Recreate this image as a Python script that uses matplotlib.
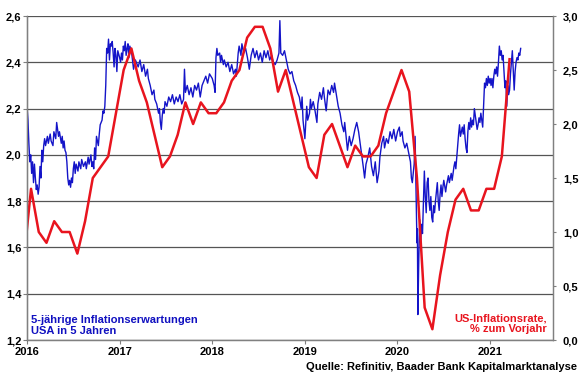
import matplotlib
matplotlib.use("Agg")
import matplotlib.pyplot as plt
from matplotlib.ticker import FuncFormatter, FixedLocator

plt.rcParams["font.family"] = ["Liberation Sans", "DejaVu Sans"]

# US-Inflationsrate, % zum Vorjahr (monatlich, Monatsmitte als Dezimaljahr)
cpi_months = [2015.96 + i / 12 for i in range(64)]
cpi_values = [0.7,
              1.4, 1.0, 0.9, 1.1, 1.0, 1.0, 0.8, 1.1, 1.5, 1.6, 1.7, 2.1,
              2.5, 2.7, 2.4, 2.2, 1.9, 1.6, 1.7, 1.9, 2.2, 2.0, 2.2, 2.1,
              2.1, 2.2, 2.4, 2.5, 2.8, 2.9, 2.9, 2.7, 2.3, 2.5, 2.2, 1.9,
              1.6, 1.5, 1.9, 2.0, 1.8, 1.6, 1.8, 1.7, 1.7, 1.8, 2.1, 2.3,
              2.5, 2.3, 1.5, 0.3, 0.1, 0.6, 1.0, 1.3, 1.4, 1.2, 1.2, 1.4,
              1.4, 1.7, 2.6]

# 5-jährige Inflationserwartungen USA in 5 Jahren
be_points = [
    (2016.00, 2.21), (2016.01, 2.15), (2016.02, 2.05), (2016.03, 1.97), (2016.04, 2.00),
    (2016.05, 1.92), (2016.06, 1.97), (2016.07, 1.88), (2016.08, 1.96), (2016.09, 1.90),
    (2016.10, 1.85), (2016.11, 1.87), (2016.12, 1.83), (2016.13, 1.86), (2016.14, 1.95),
    (2016.15, 1.90), (2016.16, 2.02), (2016.17, 1.97), (2016.18, 2.04), (2016.19, 2.07),
    (2016.20, 2.04), (2016.22, 2.08), (2016.23, 2.05), (2016.25, 2.09), (2016.26, 2.06),
    (2016.28, 2.04), (2016.29, 2.10), (2016.31, 2.07), (2016.32, 2.14), (2016.33, 2.11),
    (2016.34, 2.08), (2016.35, 2.10), (2016.37, 2.05), (2016.38, 2.08), (2016.39, 2.03),
    (2016.40, 2.06), (2016.41, 2.02), (2016.42, 2.01), (2016.43, 1.97), (2016.44, 1.90),
    (2016.45, 1.87), (2016.46, 1.89), (2016.47, 1.86), (2016.48, 1.90), (2016.49, 1.88),
    (2016.50, 1.94), (2016.51, 1.97), (2016.52, 1.92), (2016.53, 1.96), (2016.55, 1.93),
    (2016.56, 1.97), (2016.58, 1.94), (2016.59, 1.98), (2016.61, 1.95), (2016.63, 1.97),
    (2016.64, 1.94), (2016.66, 1.99), (2016.67, 1.96), (2016.69, 2.00), (2016.70, 1.95),
    (2016.71, 1.97), (2016.72, 1.94), (2016.73, 2.03), (2016.74, 1.98), (2016.75, 2.08),
    (2016.77, 2.04), (2016.78, 2.09), (2016.79, 2.13), (2016.81, 2.15), (2016.82, 2.19),
    (2016.83, 2.18), (2016.84, 2.21), (2016.85, 2.30), (2016.86, 2.46), (2016.87, 2.44),
    (2016.88, 2.50), (2016.89, 2.41), (2016.90, 2.48), (2016.91, 2.47), (2016.92, 2.49),
    (2016.93, 2.44), (2016.94, 2.38), (2016.95, 2.46), (2016.96, 2.43), (2016.97, 2.36),
    (2016.98, 2.45), (2017.00, 2.42), (2017.01, 2.40), (2017.02, 2.44), (2017.03, 2.41),
    (2017.04, 2.47), (2017.05, 2.45), (2017.06, 2.49), (2017.07, 2.43), (2017.08, 2.46),
    (2017.09, 2.48), (2017.10, 2.42), (2017.11, 2.47), (2017.13, 2.44), (2017.15, 2.37),
    (2017.17, 2.41), (2017.20, 2.38), (2017.22, 2.41), (2017.24, 2.36), (2017.26, 2.39),
    (2017.28, 2.34), (2017.30, 2.37), (2017.31, 2.33), (2017.33, 2.30), (2017.35, 2.26),
    (2017.37, 2.28), (2017.38, 2.24), (2017.40, 2.22), (2017.42, 2.18), (2017.43, 2.20),
    (2017.44, 2.14), (2017.45, 2.11), (2017.46, 2.17), (2017.47, 2.20), (2017.48, 2.18),
    (2017.49, 2.23), (2017.51, 2.21), (2017.53, 2.25), (2017.55, 2.23), (2017.57, 2.26),
    (2017.59, 2.22), (2017.61, 2.25), (2017.63, 2.23), (2017.65, 2.26), (2017.67, 2.22),
    (2017.69, 2.24), (2017.70, 2.37), (2017.71, 2.27), (2017.73, 2.30), (2017.75, 2.26),
    (2017.77, 2.29), (2017.79, 2.25), (2017.81, 2.30), (2017.83, 2.28), (2017.85, 2.31),
    (2017.87, 2.25), (2017.89, 2.30), (2017.91, 2.32), (2017.93, 2.34), (2017.95, 2.31),
    (2017.97, 2.35), (2018.00, 2.33), (2018.02, 2.30), (2018.03, 2.27), (2018.04, 2.42),
    (2018.05, 2.46), (2018.06, 2.43), (2018.08, 2.44), (2018.09, 2.40), (2018.10, 2.43),
    (2018.12, 2.39), (2018.13, 2.41), (2018.15, 2.38), (2018.17, 2.40), (2018.19, 2.36),
    (2018.21, 2.39), (2018.23, 2.35), (2018.25, 2.37), (2018.26, 2.34), (2018.28, 2.44),
    (2018.29, 2.47), (2018.31, 2.43), (2018.32, 2.48), (2018.34, 2.44), (2018.36, 2.46),
    (2018.38, 2.42), (2018.40, 2.37), (2018.42, 2.43), (2018.44, 2.46), (2018.46, 2.42),
    (2018.48, 2.45), (2018.50, 2.41), (2018.52, 2.44), (2018.54, 2.40), (2018.56, 2.45),
    (2018.58, 2.42), (2018.60, 2.45), (2018.62, 2.41), (2018.64, 2.43), (2018.66, 2.40),
    (2018.68, 2.39), (2018.70, 2.41), (2018.72, 2.44), (2018.73, 2.58), (2018.74, 2.44),
    (2018.76, 2.43), (2018.78, 2.45), (2018.80, 2.41), (2018.82, 2.37), (2018.84, 2.35),
    (2018.86, 2.36), (2018.88, 2.32), (2018.90, 2.30), (2018.92, 2.27), (2018.94, 2.25),
    (2018.96, 2.20), (2018.97, 2.25), (2018.98, 2.15), (2019.00, 2.07), (2019.01, 2.14),
    (2019.02, 2.21), (2019.03, 2.15), (2019.05, 2.18), (2019.06, 2.24), (2019.07, 2.20),
    (2019.09, 2.23), (2019.11, 2.19), (2019.13, 2.14), (2019.14, 2.22), (2019.16, 2.27),
    (2019.18, 2.24), (2019.20, 2.29), (2019.21, 2.25), (2019.23, 2.19), (2019.25, 2.28),
    (2019.27, 2.26), (2019.29, 2.30), (2019.31, 2.27), (2019.32, 2.31), (2019.34, 2.26),
    (2019.36, 2.21), (2019.38, 2.18), (2019.40, 2.13), (2019.42, 2.10), (2019.43, 2.14),
    (2019.45, 2.06), (2019.46, 2.02), (2019.48, 2.08), (2019.50, 2.04), (2019.52, 2.07),
    (2019.54, 2.11), (2019.56, 2.14), (2019.58, 2.10), (2019.59, 2.07), (2019.61, 2.01),
    (2019.63, 1.95), (2019.645, 1.90), (2019.66, 1.96), (2019.68, 1.99), (2019.70, 2.03),
    (2019.72, 1.95), (2019.74, 1.91), (2019.76, 1.97), (2019.78, 1.88), (2019.80, 1.93),
    (2019.81, 1.99), (2019.83, 2.05), (2019.85, 2.08), (2019.86, 2.03), (2019.88, 2.07),
    (2019.90, 2.05), (2019.92, 2.10), (2019.94, 2.07), (2019.96, 2.11), (2019.98, 2.06),
    (2020.00, 2.10), (2020.02, 2.12), (2020.03, 2.08), (2020.05, 2.10), (2020.06, 2.06),
    (2020.08, 2.03), (2020.10, 2.05), (2020.12, 2.01), (2020.14, 1.97), (2020.15, 1.90),
    (2020.16, 1.88), (2020.18, 1.96), (2020.19, 2.08), (2020.20, 1.85), (2020.21, 1.62),
    (2020.215, 1.68), (2020.22, 1.31), (2020.23, 1.55), (2020.24, 1.72), (2020.25, 1.62),
    (2020.26, 1.70), (2020.27, 1.66), (2020.28, 1.80), (2020.29, 1.93), (2020.30, 1.82),
    (2020.31, 1.75), (2020.32, 1.88), (2020.33, 1.90), (2020.34, 1.80), (2020.35, 1.76),
    (2020.36, 1.82), (2020.37, 1.73), (2020.38, 1.71), (2020.39, 1.78), (2020.40, 1.75),
    (2020.41, 1.80), (2020.42, 1.84), (2020.43, 1.88), (2020.44, 1.80), (2020.45, 1.76),
    (2020.46, 1.83), (2020.47, 1.87), (2020.48, 1.82), (2020.49, 1.86), (2020.50, 1.89),
    (2020.52, 1.84), (2020.53, 1.87), (2020.55, 1.91), (2020.56, 1.88), (2020.58, 1.92),
    (2020.59, 1.89), (2020.61, 1.95), (2020.62, 1.97), (2020.63, 1.94), (2020.65, 2.04),
    (2020.66, 2.09), (2020.67, 2.13), (2020.68, 2.08), (2020.70, 2.12), (2020.71, 2.09),
    (2020.72, 2.13), (2020.73, 2.07), (2020.74, 2.03), (2020.75, 2.01), (2020.76, 2.10),
    (2020.77, 2.14), (2020.78, 2.11), (2020.79, 2.16), (2020.80, 2.12), (2020.81, 2.15),
    (2020.82, 2.13), (2020.83, 2.20), (2020.84, 2.17), (2020.85, 2.14), (2020.86, 2.11),
    (2020.87, 2.13), (2020.88, 2.16), (2020.89, 2.14), (2020.90, 2.18), (2020.91, 2.15),
    (2020.92, 2.12), (2020.93, 2.22), (2020.94, 2.31), (2020.95, 2.29), (2020.96, 2.33),
    (2020.97, 2.30), (2020.98, 2.34), (2020.99, 2.31), (2021.00, 2.33), (2021.01, 2.30),
    (2021.02, 2.33), (2021.03, 2.29), (2021.04, 2.34), (2021.05, 2.37), (2021.06, 2.35),
    (2021.07, 2.38), (2021.08, 2.34), (2021.09, 2.40), (2021.10, 2.47), (2021.11, 2.43),
    (2021.12, 2.45), (2021.13, 2.41), (2021.14, 2.43), (2021.15, 2.36), (2021.16, 2.29),
    (2021.17, 2.32), (2021.18, 2.21), (2021.19, 2.30), (2021.20, 2.26), (2021.21, 2.28),
    (2021.22, 2.35), (2021.23, 2.40), (2021.24, 2.45), (2021.25, 2.36), (2021.26, 2.28),
    (2021.27, 2.36), (2021.28, 2.40), (2021.29, 2.42), (2021.30, 2.41), (2021.31, 2.44),
    (2021.32, 2.43), (2021.33, 2.46),
]
be_dates = [p[0] for p in be_points]
be_values = [p[1] for p in be_points]

years = [2016, 2017, 2018, 2019, 2020, 2021]
left_ticks = [1.2, 1.4, 1.6, 1.8, 2.0, 2.2, 2.4, 2.6]
right_ticks = [0.0, 0.5, 1.0, 1.5, 2.0, 2.5, 3.0]

BLUE = "#1414c8"
RED = "#e8141e"
GRID = "#555555"


def komma(v, pos):
    return f"{v:.1f}".replace(".", ",")


fig = plt.figure(figsize=(5.8, 3.75), dpi=100)
ax = fig.add_axes([0.0466, 0.0933, 0.907, 0.864])
ax2 = ax.twinx()

ax.plot(be_dates, be_values, color=BLUE, linewidth=1.0, zorder=3)
ax2.plot(cpi_months, cpi_values, color=RED, linewidth=1.8, zorder=2)

ax.set_xlim(2016.0, 2021.68)
ax.set_ylim(1.2, 2.6)
ax2.set_ylim(0.0, 3.0)

ax.yaxis.set_major_locator(FixedLocator(left_ticks))
ax.yaxis.set_major_formatter(FuncFormatter(komma))
ax2.yaxis.set_major_locator(FixedLocator(right_ticks))
ax2.yaxis.set_major_formatter(FuncFormatter(komma))
ax.set_xticks(years)
ax.set_xticklabels([str(y) for y in years])

ax.grid(axis="y", color=GRID, linewidth=0.9)
ax.set_axisbelow(True)

for a in (ax, ax2):
    a.spines["top"].set_visible(False)
    for s in ("left", "right", "bottom"):
        a.spines[s].set_color("#808080")
        a.spines[s].set_linewidth(0.9)
ax.spines["left"].set_color("#404040")

ax.tick_params(axis="y", direction="out", length=3, width=0.8, color="#808080",
               labelsize=8, pad=1)
ax.tick_params(axis="x", direction="out", length=3, width=0.8, color="#808080",
               labelsize=8, pad=2)
ax2.tick_params(axis="y", direction="out", length=2.5, width=0.8, color="#808080",
                labelsize=8, pad=4.5)
for lab in ax.get_xticklabels() + ax.get_yticklabels() + ax2.get_yticklabels():
    lab.set_fontweight("bold")

ax.text(0.008, 0.046, "5-jährige Inflationserwartungen\nUSA in 5 Jahren",
        transform=ax.transAxes, color="#1010c0", fontsize=8, fontweight="bold",
        ha="left", va="center", linespacing=1.15)
ax.text(0.988, 0.05, "US-Inflationsrate,\n% zum Vorjahr",
        transform=ax.transAxes, color=RED, fontsize=8, fontweight="bold",
        ha="right", va="center", linespacing=1.15, multialignment="right")
fig.text(0.995, 0.022, "Quelle: Refinitiv, Baader Bank Kapitalmarktanalyse",
         color="black", fontsize=8, fontweight="bold", ha="right", va="center")

fig.savefig("out.png", dpi=100)
